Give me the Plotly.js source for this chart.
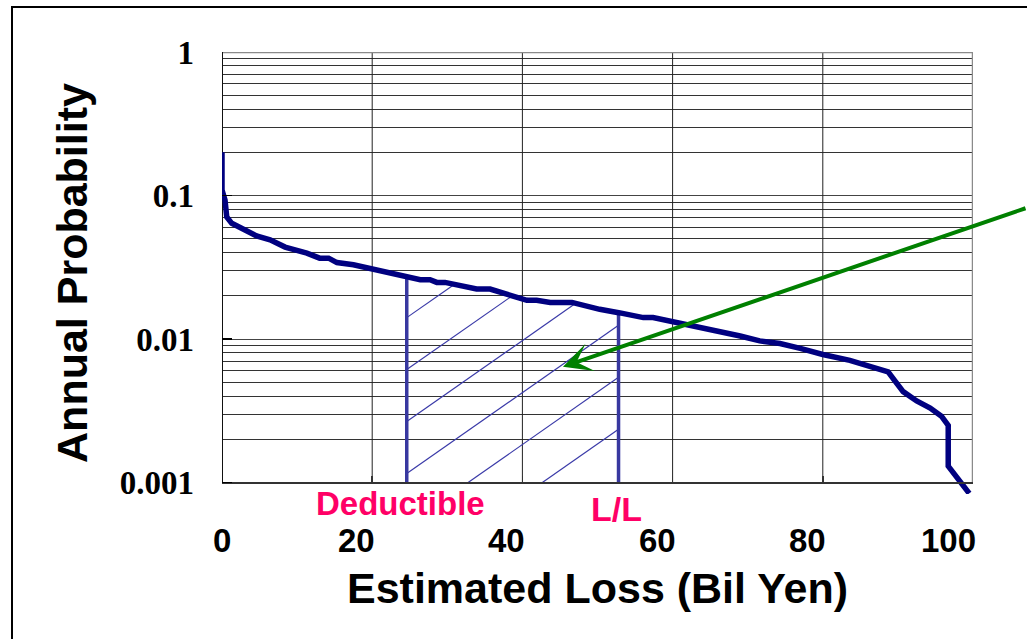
<!DOCTYPE html>
<html>
<head>
<meta charset="utf-8">
<script src="https://cdn.plot.ly/plotly-3.0.1.min.js"></script>
<style>
  html, body { margin: 0; padding: 0; background: #fff; overflow: hidden; }
  #chart { position: absolute; left: 0; top: 0; width: 1027px; height: 639px; }
  #frame { position: absolute; left: 11px; top: 6px; width: 2000px; height: 2000px;
           border-left: 2px solid #000; border-top: 2px solid #000; pointer-events: none; }
</style>
</head>
<body>
<div id="chart"></div>
<div id="frame"></div>
<script>
// Loss exceedance curve: estimated loss (billion yen) vs annual probability
const lossBilYen = [
  0, 0, 0.4, 0.63, 0.63, 1.3, 3.7, 4.6, 6.4, 8.4, 11.3, 13.0, 14.2, 15.3, 17.5,
  20.2, 24.1, 26.4, 27.7, 28.6, 29.7, 32.1, 33.9, 35.7, 37.5, 39.2, 40.6, 41.9,
  43.7, 46.6, 48.6, 50.3, 53.0, 56.1, 57.4, 60.1, 61.9, 64.5, 67.2, 69.0, 71.6,
  74.3, 77.0, 80.0, 83.6, 86.3, 88.7, 89.6, 90.7, 92.5, 94.3, 95.8, 96.7, 96.7,
  97.4, 98.5, 99.5
];
const annualProb = [
  0.2, 0.109, 0.093, 0.079, 0.071, 0.064, 0.0547, 0.0523, 0.0491, 0.0437, 0.0397,
  0.0366, 0.0366, 0.0341, 0.0329, 0.0304, 0.0277, 0.0259, 0.0259, 0.0248, 0.0248,
  0.0235, 0.0223, 0.0223, 0.0209, 0.0193, 0.0186, 0.0186, 0.0180, 0.0180, 0.0169,
  0.0161, 0.0152, 0.0141, 0.0141, 0.0132, 0.0127, 0.0117, 0.0111, 0.0105, 0.0097,
  0.0093, 0.0086, 0.0078, 0.0071, 0.0065, 0.0059, 0.0051, 0.0043, 0.0037, 0.0033,
  0.0029, 0.0025, 0.0013, 0.00117, 0.00100, 0.00084
];

// Insurance layer bounds (billion yen)
const deductible = 24.6;
const lossLimit = 52.8;

// Axis ticks
const xTickVals = [0, 20, 40, 60, 80, 100];
const xTickText = ['0', '20', '40', '60', '80', '100'];
const yTickVals = [0.001, 0.01, 0.1, 1];
const yTickText = ['0.001', '0.01', '0.1', '1'];
const minorSteps = [2, 3, 4, 5, 6, 7, 8, 9];

// Label texts
const deductibleLabel = 'Deductible';
const limitLabel = 'L/L';

// ---- helpers -------------------------------------------------------------
const logProb = annualProb.map(Math.log10);
const yFloorLog = Math.log10(yTickVals[0]);
const yTopLog = Math.log10(yTickVals[yTickVals.length - 1]);
const yRangeLog = [yFloorLog - 0.08, yTopLog];   // curve tail runs a little past the floor

function curveLog(x) {
  for (let i = 0; i < lossBilYen.length - 1; i++) {
    const a = lossBilYen[i], b = lossBilYen[i + 1];
    if (b > a && x >= a && x <= b) {
      const t = (x - a) / (b - a);
      return logProb[i] + t * (logProb[i + 1] - logProb[i]);
    }
  }
  return logProb[logProb.length - 1];
}

// Diagonal hatching of the layer between deductible and limit
const hatchSlope = 0.0366;      // decades per billion yen
const hatchGap = 0.362;         // decades between lines
const hatchRefX = deductible, hatchRefL = -2.937;
const hatchX = [], hatchY = [];
for (let k = -8; k <= 8; k++) {
  const line = x => hatchRefL + hatchSlope * (x - hatchRefX) + k * hatchGap;
  if (line(lossLimit) <= yFloorLog) continue;
  let x0 = Math.max(deductible, hatchRefX + (yFloorLog - hatchRefL - k * hatchGap) / hatchSlope);
  const f = x => curveLog(x) - line(x);
  if (f(x0) <= 0) continue;
  let x1;
  if (f(lossLimit) >= 0) {
    x1 = lossLimit;
  } else {
    let lo = x0, hi = lossLimit;
    for (let it = 0; it < 60; it++) {
      const m = (lo + hi) / 2;
      if (f(m) > 0) lo = m; else hi = m;
    }
    x1 = lo;
  }
  if (x1 - x0 < 1.5) continue;
  hatchX.push(x0, x1, null);
  hatchY.push(Math.pow(10, line(x0)), Math.pow(10, line(x1)), null);
}

const minorVals = [];
for (let d = 0; d < yTickVals.length - 1; d++) {
  minorSteps.forEach(s => minorVals.push(s * yTickVals[d]));
}

// ---- traces ---------------------------------------------------------------
const traces = [
  {
    x: hatchX, y: hatchY, mode: 'lines', hoverinfo: 'skip', showlegend: false,
    line: { color: '#3a3aa8', width: 1.2 }
  },
  {
    x: [deductible, deductible, null, lossLimit, lossLimit],
    y: [yTickVals[0], Math.pow(10, curveLog(deductible)), null,
        yTickVals[0], Math.pow(10, curveLog(lossLimit))],
    mode: 'lines', hoverinfo: 'skip', showlegend: false,
    line: { color: '#3838a0', width: 3.5 }
  },
  {
    x: lossBilYen, y: annualProb, mode: 'lines', name: 'Loss exceedance',
    showlegend: false, line: { color: '#000080', width: 5.5, shape: 'linear' }
  }
];

// ---- frame lines -------------------------------------------------------------
const shapes = [];
xTickVals.slice(1, -1).forEach(v => shapes.push({
  type: 'line', xref: 'x', yref: 'y', x0: v, x1: v, y0: yTickVals[0], y1: yTickVals[yTickVals.length - 1],
  line: { color: '#222', width: 1 }, layer: 'between'
}));
shapes.push({ type: 'line', xref: 'x', yref: 'y', x0: 100, x1: 100, y0: yTickVals[0], y1: 1,
  line: { color: '#8a8a8a', width: 2.5 }, layer: 'between' });
shapes.push({ type: 'line', xref: 'x', yref: 'y', x0: 0, x1: 100, y0: 1, y1: 1,
  line: { color: '#8a8a8a', width: 2.5 }, layer: 'between' });
shapes.push({ type: 'line', xref: 'x', yref: 'y', x0: 0, x1: 0, y0: yTickVals[0], y1: 1,
  line: { color: '#111', width: 2 }, layer: 'between' });

// ---- annotations ---------------------------------------------------------------
const boldSans = { family: 'Liberation Sans, Arial, sans-serif', color: '#000', weight: 700 };
const annotations = [];
xTickVals.forEach((v, i) => annotations.push({
  x: v, xref: 'x', y: 0, yref: 'paper', text: xTickText[i], showarrow: false,
  xanchor: i === 0 ? 'center' : 'right', xshift: i === 0 ? 0 : 5,
  yanchor: 'middle', yshift: -46,
  font: Object.assign({}, boldSans, { size: 33 })
}));
annotations.push({
  x: deductible, xref: 'x', y: yFloorLog, yref: 'y', text: deductibleLabel, showarrow: false,
  xanchor: 'center', xshift: -6, yanchor: 'middle', yshift: -21,
  font: Object.assign({}, boldSans, { size: 33, color: '#ff0066' })
});
annotations.push({
  x: lossLimit, xref: 'x', y: yFloorLog, yref: 'y', text: limitLabel, showarrow: false,
  xanchor: 'center', xshift: -2, yanchor: 'middle', yshift: -26,
  font: Object.assign({}, boldSans, { size: 34, color: '#ff0066' })
});
// pointer into the hatched layer
annotations.push({
  x: 45.4, xref: 'x', y: Math.log10(0.00641), yref: 'y', text: '',
  showarrow: true, arrowhead: 3, arrowsize: 1.2, arrowwidth: 4, arrowcolor: '#008000',
  axref: 'pixel', ayref: 'pixel', ax: 480, ay: -159, standoff: 0
});

// ---- layout ------------------------------------------------------------------
const layout = {
  width: 1027, height: 639,
  margin: { l: 222, r: 54, t: 52, b: 144.5 },
  paper_bgcolor: 'rgba(0,0,0,0)', plot_bgcolor: '#fff',
  showlegend: false, hovermode: false,
  xaxis: {
    range: [0, 100], anchor: 'free',
    position: (yFloorLog - yRangeLog[0]) / (yRangeLog[1] - yRangeLog[0]),
    showgrid: false, zeroline: false,
    showline: true, linecolor: '#333', linewidth: 2,
    ticks: 'inside', ticklen: 6, tickcolor: '#333', tickwidth: 1.5,
    tickvals: xTickVals, showticklabels: false,
    title: { text: 'Estimated Loss (Bil Yen)', font: Object.assign({}, boldSans, { size: 43 }), standoff: 89 }
  },
  yaxis: {
    type: 'log', range: yRangeLog,
    tickvals: yTickVals, ticktext: yTickText,
    ticks: 'inside', ticklen: 10, tickcolor: '#000', tickwidth: 1.5,
    ticklabelstandoff: 27,
    tickfont: { family: 'Liberation Serif, Times New Roman, serif', size: 33, color: '#000', weight: 700 },
    showgrid: true, gridcolor: '#444', gridwidth: 1,
    minor: { tickvals: minorVals, showgrid: true, gridcolor: '#333', gridwidth: 1, ticks: '' },
    showline: false, zeroline: false,
    title: { text: 'Annual Probability', font: Object.assign({}, boldSans, { size: 43 }), standoff: 18 }
  },
  shapes: shapes,
  annotations: annotations
};

Plotly.newPlot('chart', traces, layout, { staticPlot: true, displayModeBar: false });
</script>
</body>
</html>
